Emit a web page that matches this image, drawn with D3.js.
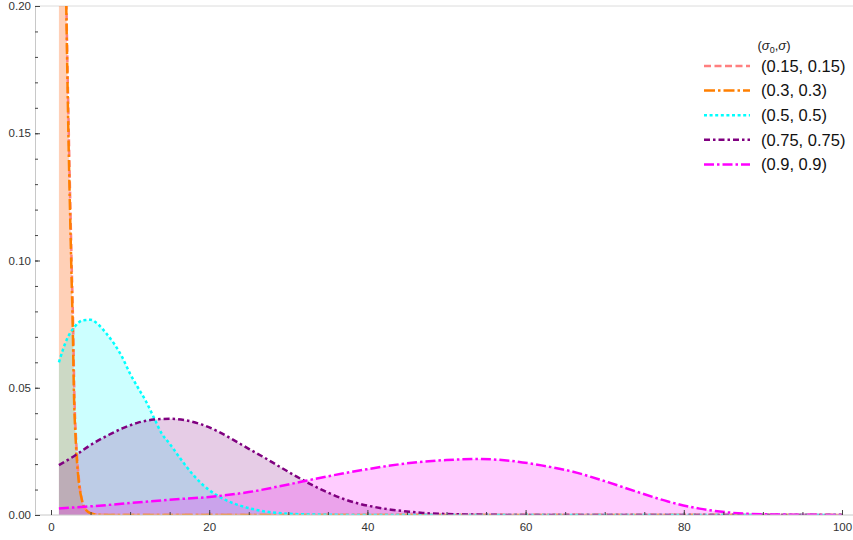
<!DOCTYPE html>
<html><head><meta charset="utf-8">
<script src="https://cdn.jsdelivr.net/npm/d3@7"></script>
<style>
body{margin:0;background:#fff}
svg{display:block}
text{font-family:"Liberation Sans",Arial,Helvetica,sans-serif}
</style>
</head><body>
<svg id="chart" width="853" height="540"></svg>
<script>
// ---- data ----
const seriesLabels = ["(0.15, 0.15)", "(0.3, 0.3)", "(0.5, 0.5)", "(0.75, 0.75)", "(0.9, 0.9)"];
const seriesColors = ["#ff7f7f", "#ff7f00", "#00ffff", "#800080", "#ff00ff"];
const seriesDash = ["7,3.5", "11,3,2.5,3", "3,2.6", "6,3,2.5,3", "10,3,2.5,3"];

const x015 = [1, 1.5, 1.95, 2.25, 2.6, 2.8, 2.95, 3.2, 3.5, 3.9, 4.3, 5, 6, 8, 100];
const y015 = [0.42, 0.31, 0.20, 0.15, 0.10, 0.074, 0.048, 0.028, 0.015, 0.006, 0.0025, 0.0007, 0.0001, 0, 0];

const x03 = [1, 1.5, 1.93, 2.2, 2.55, 2.75, 2.9, 3.15, 3.45, 3.9, 4.3, 5, 6, 8, 100];
const y03 = [0.40, 0.30, 0.20, 0.15, 0.10, 0.074, 0.048, 0.028, 0.015, 0.006, 0.0025, 0.0007, 0.0001, 0, 0];

const x05 = [1,2,3,4,5,6,7,8,9,10,11,12,13,14,15,16,17,18,19,20,22,24,26,28,30,35,40,100];
const y05 = [0.060,0.069,0.074,0.0765,0.0767,0.0748,0.0713,0.0672,0.062,0.0555,0.050,0.0447,0.0383,0.032,0.028,0.0237,0.0195,0.0157,0.0124,0.0098,0.006,0.0036,0.002,0.001,0.0005,0.0001,0,0];

const x075 = [1,3,5,7,9,11,13,15,17,19,21,23,25,27,29,31,33,35,37,39,41,43,45,47,50,55,60,100];
const y075 = [0.0196,0.0233,0.0275,0.031,0.034,0.0363,0.0375,0.0378,0.0372,0.0356,0.0330,0.0296,0.0260,0.0225,0.0188,0.0152,0.0118,0.0088,0.0063,0.0044,0.0031,0.0021,0.0014,0.0008,0.0004,0.0001,0,0];

const x09 = [1,5,10,15,20,25,30,35,40,45,50,54,58,62,66,70,74,78,82,86,90,95,100];
const y09 = [0.0026,0.0034,0.0047,0.0060,0.0071,0.0090,0.0120,0.0152,0.0180,0.0203,0.0216,0.0220,0.0213,0.0195,0.0170,0.0133,0.0092,0.0053,0.0025,0.0009,0.0003,0.0001,0];

const xTickValues = [0, 20, 40, 60, 80, 100];
const yTickValues = [0, 0.05, 0.10, 0.15, 0.20];

const seriesX = [x015, x03, x05, x075, x09];
const seriesY = [y015, y03, y05, y075, y09];
const series = seriesLabels.map((label, i) => ({
  label, color: seriesColors[i], dash: seriesDash[i],
  points: seriesX[i].map((x, j) => ({x, y: seriesY[i][j]}))
}));

// ---- layout ----
const svg = d3.select("#chart");
const W = 853, H = 540;
const xScale = d3.scaleLinear().domain([0, 100]).range([51, 842]);
const yScale = d3.scaleLinear().domain([0, 0.2]).range([515, 6]);
const axisX = 35; // pixel position of vertical axis

svg.append("defs").append("clipPath").attr("id", "plotclip")
  .append("rect").attr("x", axisX).attr("y", yScale(0.2)).attr("width", W - axisX).attr("height", yScale(0) - yScale(0.2));

// frame line at top
svg.append("line").attr("x1", axisX).attr("x2", W).attr("y1", yScale(0.2)).attr("y2", yScale(0.2))
  .attr("stroke", "#dcdcdc").attr("stroke-width", 1);

const plot = svg.append("g").attr("clip-path", "url(#plotclip)");

const area = d3.area().x(d => xScale(d.x)).y0(yScale(0)).y1(d => yScale(d.y)).curve(d3.curveMonotoneX);
const line = d3.line().x(d => xScale(d.x)).y(d => yScale(d.y)).curve(d3.curveMonotoneX);

plot.selectAll("path.fill").data(series).join("path")
  .attr("class", "fill").attr("d", d => area(d.points))
  .attr("fill", d => d.color).attr("fill-opacity", 0.2).attr("stroke", "none");

// axes
const gx = svg.append("g").attr("transform", `translate(0,${yScale(0)})`);
gx.append("line").attr("x1", axisX).attr("x2", W).attr("stroke", "#c8c8c8");
gx.call(d3.axisBottom(xScale).tickValues(d3.range(0, 101, 5)).tickSize(-3).tickFormat(""));
gx.call(g => g.select(".domain").remove());
const gx2 = svg.append("g").attr("transform", `translate(0,${yScale(0)})`)
  .call(d3.axisBottom(xScale).tickValues(xTickValues).tickSize(-5).tickPadding(8).tickFormat(d3.format("d")));
gx2.select(".domain").remove();
gx2.selectAll("text").attr("font-size", 11.5).attr("fill", "#333").attr("font-family", '"Liberation Sans",Arial,sans-serif');

const gy = svg.append("g").attr("transform", `translate(${axisX},0)`)
  .call(d3.axisLeft(yScale).tickValues(d3.range(0, 0.2001, 0.01)).tickSize(-3).tickSizeOuter(0).tickFormat(""));
gy.select(".domain").attr("stroke", "#c8c8c8");
const gy2 = svg.append("g").attr("transform", `translate(${axisX},0)`)
  .call(d3.axisLeft(yScale).tickValues(yTickValues).tickSize(-5).tickPadding(4).tickFormat(d3.format(".2f")));
gy2.select(".domain").remove();
gy2.selectAll("text").attr("font-size", 11.5).attr("fill", "#333").attr("font-family", '"Liberation Sans",Arial,sans-serif');
svg.selectAll(".tick line").attr("stroke", "#444");

plot.selectAll("path.curve").data(series).join("path")
  .attr("class", "curve").attr("d", d => line(d.points))
  .attr("fill", "none").attr("stroke", d => d.color).attr("stroke-width", 2.5)
  .attr("stroke-dasharray", d => d.dash);

// legend
const lg = svg.append("g");
const title = lg.append("text").attr("x", 774).attr("y", 45).attr("dy", "0.35em")
  .attr("text-anchor", "middle").attr("font-size", 13).attr("fill", "#222");
title.append("tspan").text("(");
title.append("tspan").attr("font-style", "italic").text("σ");
title.append("tspan").attr("font-size", 9).attr("dy", "3").text("0");
title.append("tspan").attr("dy", "-3").text(",");
title.append("tspan").attr("font-style", "italic").text("σ");
title.append("tspan").text(")");

const items = lg.selectAll("g.item").data(series).join("g").attr("class", "item")
  .attr("transform", (d, i) => `translate(0,${66 + i * 24.6})`);
items.append("line").attr("x1", 704).attr("x2", 750)
  .attr("stroke", d => d.color).attr("stroke-width", 2.5).attr("stroke-dasharray", d => d.dash);
items.append("text").attr("x", 761).attr("dy", "0.35em").attr("font-size", 16.5).attr("fill", "#111")
  .text(d => d.label);
</script>
</body></html>
